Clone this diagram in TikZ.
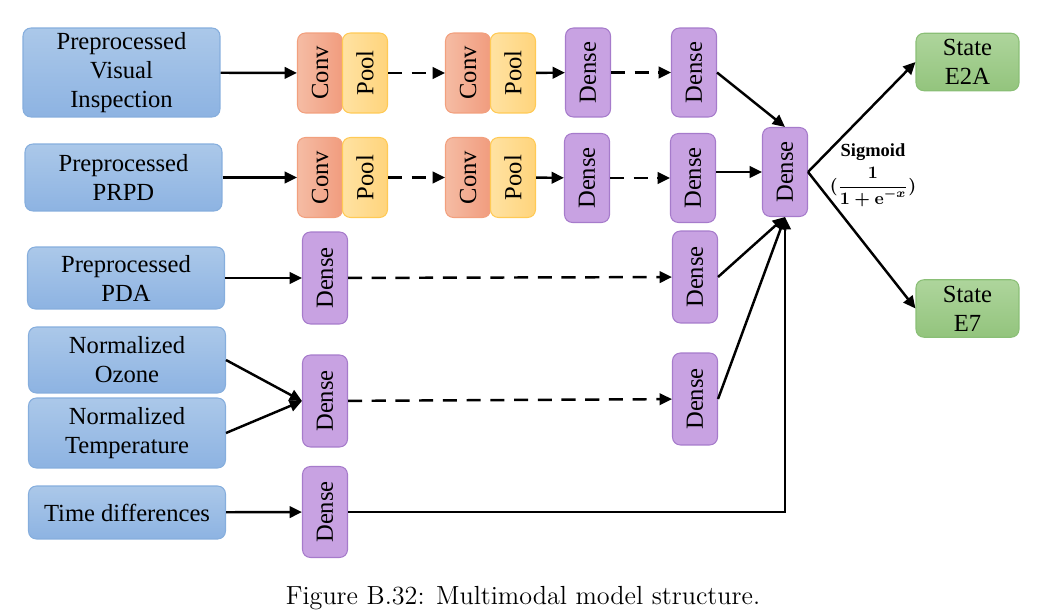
\documentclass[tikz,border=0pt]{standalone}
\usepackage{fontspec}
\usepackage{graphicx}
\usetikzlibrary{arrows.meta}
\newfontfamily\boxfont{Liberation Serif}
\definecolor{inT}{HTML}{ABC8E9}
\definecolor{inB}{HTML}{8DB3E2}
\definecolor{inD}{HTML}{86AEDD}
\definecolor{convL}{HTML}{F5BCA4}
\definecolor{convR}{HTML}{F19C7E}
\definecolor{convD}{HTML}{F2A07E}
\definecolor{poolL}{HTML}{FFE2A2}
\definecolor{poolR}{HTML}{FFD47C}
\definecolor{poolD}{HTML}{FFCA55}
\definecolor{denseF}{HTML}{C8A2E2}
\definecolor{denseD}{HTML}{A67BCB}
\definecolor{stT}{HTML}{AED59C}
\definecolor{stB}{HTML}{93C47D}
\definecolor{stD}{HTML}{8ABF76}
\tikzset{
  layer/.style={rounded corners=4.5pt, line width=.6pt, inner sep=0pt,
    font=\boxfont\fontsize{14}{16.5}\selectfont, align=center},
  inbox/.style={layer, draw=inD, top color=inT, bottom color=inB, minimum width=3.94cm},
  convbox/.style={layer, draw=convD, left color=convL, right color=convR, minimum width=.9cm, minimum height=1.6cm},
  poolbox/.style={layer, draw=poolD, left color=poolL, right color=poolR, minimum width=.9cm, minimum height=1.6cm},
  densebox/.style={layer, draw=denseD, fill=denseF, minimum width=.9cm, minimum height=1.78cm},
  statebox/.style={layer, draw=stD, top color=stT, bottom color=stB, minimum width=2.06cm, minimum height=1.15cm},
  conn/.style={line width=1.4pt, -{Triangle[length=7pt,width=6.5pt]}},
  dconn/.style={conn, dash pattern=on 8pt off 5.5pt}
}
\newcommand{\vtext}[1]{\rotatebox{90}{#1}}
\newcommand{\sigformula}{{\boldmath$\displaystyle(\frac{\mathbf{1}}{\mathbf{1+e}^{-x}})$}}
\begin{document}
\begin{tikzpicture}[x=0.02cm,y=-0.02cm]
\useasboundingbox (0,0) rectangle (1042,615);
% inputs
\node[inbox, minimum height=1.78cm] (vis) at (121.5,72.5) {Preprocessed\\Visual\\Inspection};
\node[inbox, minimum height=1.34cm] (prpd) at (123.5,177.5) {Preprocessed\\PRPD};
\node[inbox, minimum height=1.24cm] (pda) at (126,278) {Preprocessed\\PDA};
\node[inbox, minimum height=1.32cm] (ozone) at (127,360) {Normalized\\Ozone};
\node[inbox, minimum height=1.4cm] (temp) at (127,433) {Normalized\\Temperature};
\node[inbox, minimum height=1.06cm] (time) at (127,512.5) {Time differences};
% conv / pool rows
\node[convbox] (convA1) at (320,73) {\vtext{Conv}};
\node[poolbox] (poolA1) at (365,73) {\vtext{Pool}};
\node[convbox] (convA2) at (468,73) {\vtext{Conv}};
\node[poolbox] (poolA2) at (513,73) {\vtext{Pool}};
\node[convbox] (convB1) at (320,177.5) {\vtext{Conv}};
\node[poolbox] (poolB1) at (365,177.5) {\vtext{Pool}};
\node[convbox] (convB2) at (468,177.5) {\vtext{Conv}};
\node[poolbox] (poolB2) at (513,177.5) {\vtext{Pool}};
% dense layers
\node[densebox] (denA1) at (588,72.5) {\vtext{Dense}};
\node[densebox] (denA2) at (694,72.5) {\vtext{Dense}};
\node[densebox] (denB1) at (587,178) {\vtext{Dense}};
\node[densebox] (denB2) at (693,178) {\vtext{Dense}};
\node[densebox, minimum height=1.84cm] (denC1) at (325,278) {\vtext{Dense}};
\node[densebox, minimum height=1.84cm] (denC2) at (695,277) {\vtext{Dense}};
\node[densebox, minimum height=1.84cm] (denD1) at (325,401) {\vtext{Dense}};
\node[densebox, minimum height=1.84cm] (denD2) at (695,399) {\vtext{Dense}};
\node[densebox, minimum height=1.82cm] (denE1) at (325,512) {\vtext{Dense}};
\node[densebox] (merge) at (785,172) {\vtext{Dense}};
% outputs
\node[statebox] (e2a) at (967.5,62) {State\\E2A};
\node[statebox] (e7) at (967.5,308.5) {State\\E7};
\node[font=\boxfont\bfseries\fontsize{10.5}{12}\selectfont] (sig) at (873,152) {Sigmoid};
\node[font=\fontsize{10}{12}\selectfont] (sigf) at (873,187) {\sigformula};
\node[font=\fontsize{14.9}{17}\selectfont] (cap) at (523,598) {Figure B.32: Multimodal model structure.};
% connectors
\draw[conn] (vis) -- (convA1);
\draw[dconn] (poolA1) -- (convA2);
\draw[conn] (poolA2) -- (denA1);
\draw[dconn] (denA1) -- (denA2);
\draw[conn] (prpd) -- (convB1);
\draw[dconn] (poolB1) -- (convB2);
\draw[conn] (poolB2) -- (denB1);
\draw[dconn] (denB1) -- (denB2);
\draw[conn] (pda) -- (denC1);
\draw[dconn] (denC1) -- (denC2);
\draw[conn] (ozone.east) -- (denD1.west);
\draw[conn] (temp.east) -- (denD1.west);
\draw[dconn] (denD1) -- (denD2);
\draw[conn] (time) -- (denE1);
\draw[conn] (denA2.east) -- (merge.north);
\draw[conn] (denB2.east |- merge.west) -- (merge.west);
\draw[conn] (denC2.east) -- (merge.south);
\draw[conn] (denD2.east) -- (merge.south);
\draw[conn] (denE1.east) -| (merge.south);
\draw[conn] (merge.east) -- (e2a.west);
\draw[conn] (merge.east) -- (e7.west);
\end{tikzpicture}
\end{document}
